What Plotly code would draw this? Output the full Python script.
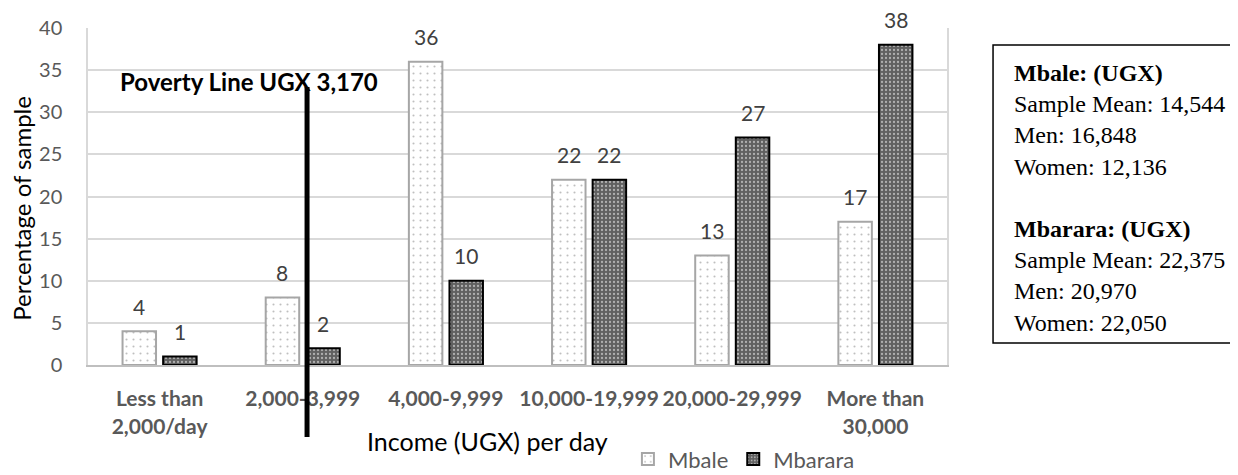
import plotly.graph_objects as go

categories = ["Less than<br>2,000/day", "2,000-3,999", "4,000-9,999",
              "10,000-19,999", "20,000-29,999", "More than<br>30,000"]
mbale = [4, 8, 36, 22, 13, 17]
mbarara = [1, 2, 10, 22, 27, 38]
series_names = ["Mbale", "Mbarara"]
y_ticks = [0, 5, 10, 15, 20, 25, 30, 35, 40]

poverty_label = "Poverty Line UGX 3,170"
poverty_pos = 1.03     # position on the category axis (between 2,000 and 3,999)
poverty_top = 33

box_lines = ["<b>Mbale: (UGX)</b>", "Sample Mean: 14,544", "Men: 16,848", "Women: 12,136", "",
             "<b>Mbarara: (UGX)</b>", "Sample Mean: 22,375", "Men: 20,970", "Women: 22,050"]

SANS = "Lato"
BARGAP = 0.433
BARGROUPGAP = 0.175

fig = go.Figure()
fig.add_trace(go.Bar(
    x=list(range(len(categories))), y=mbale, name=series_names[0],
    marker=dict(color="white", line=dict(color="#a6a6a6", width=2),
                pattern=dict(shape=".", bgcolor="white", fgcolor="#7f7f7f", size=7, solidity=0.07)),
))
fig.add_trace(go.Bar(
    x=list(range(len(categories))), y=mbarara, name=series_names[1],
    marker=dict(color="#606060", line=dict(color="black", width=2),
                pattern=dict(shape=".", bgcolor="#606060", fgcolor="white", size=4, solidity=0.25)),
))

off = (1 - BARGAP) / 4
annotations = []
for i, v in enumerate(mbale):
    annotations.append(dict(x=i - off, y=v, xref="x", yref="y", text=str(v), showarrow=False,
                            xanchor="center", yanchor="middle",
                            yshift=25, font=dict(family=SANS, size=21, color="#404040")))
for i, v in enumerate(mbarara):
    annotations.append(dict(x=i + off, y=v, xref="x", yref="y", text=str(v), showarrow=False,
                            xanchor="center", yanchor="middle",
                            yshift=25, font=dict(family=SANS, size=21, color="#404040")))

annotations.append(dict(x=0.187, y=33.7, xref="paper", yref="y", text=poverty_label, showarrow=False,
                        xanchor="center", yanchor="middle",
                        font=dict(family=SANS, size=24, color="black", weight="bold")))
annotations.append(dict(x=-0.077, y=0.466, xref="paper", yref="paper", text="Percentage of sample",
                        textangle=-90, showarrow=False, xanchor="center", yanchor="middle",
                        font=dict(family=SANS, size=24, color="black")))
annotations.append(dict(x=0.465, y=-0.225, xref="paper", yref="paper", text="Income (UGX) per day",
                        showarrow=False, xanchor="center", yanchor="middle",
                        font=dict(family=SANS, size=25, color="black")))
annotations.append(dict(x=1.0757, y=0.497, xref="paper", yref="paper", xanchor="left", yanchor="middle",
                        align="left", text="<br>".join(box_lines), showarrow=False,
                        font=dict(family="Liberation Serif", size=24, color="black")))

shapes = [
    dict(type="line", xref="x", yref="paper", x0=poverty_pos, x1=poverty_pos,
         y0=-0.214, y1=poverty_top / 40, line=dict(color="black", width=5), layer="above"),
    dict(type="rect", xref="paper", yref="paper", x0=1.0536, x1=1.3335, y0=0.065, y1=0.9496,
         line=dict(color="black", width=1.5)),
]

# page has an 8px body margin, so the figure sits at (8, 8) in the 1238x475 window
fig.update_layout(
    width=1230, height=467,
    margin=dict(l=80, r=291, t=20, b=110, autoexpand=False),
    paper_bgcolor="white", plot_bgcolor="white",
    barmode="group", bargap=BARGAP, bargroupgap=BARGROUPGAP,
    showlegend=True,
    legend=dict(orientation="h", xref="container", yref="container", x=0.504, y=0.034,
                xanchor="left", yanchor="middle",
                font=dict(family=SANS, size=22, color="#595959"), itemwidth=30,
                bgcolor="rgba(0,0,0,0)"),
    annotations=annotations,
    shapes=shapes,
    xaxis=dict(tickmode="array", tickvals=list(range(len(categories))), ticktext=categories,
               range=[-0.5, len(categories) - 0.5], tickangle=0, automargin=False,
               tickfont=dict(family=SANS, size=21, color="#595959", weight="bold"),
               showline=True, linecolor="#bfbfbf", linewidth=2, ticks="", showgrid=False,
               ticklabelstandoff=14, zeroline=False),
    yaxis=dict(range=[0, 40], tickvals=y_ticks, ticks="", automargin=False,
               tickfont=dict(family=SANS, size=20, color="#595959"),
               showgrid=True, gridcolor="#d9d9d9", gridwidth=1.5,
               showline=True, linecolor="#d9d9d9", linewidth=1.5, mirror=True,
               zeroline=False, ticklabelstandoff=20),
)

fig.write_html("out.html")
